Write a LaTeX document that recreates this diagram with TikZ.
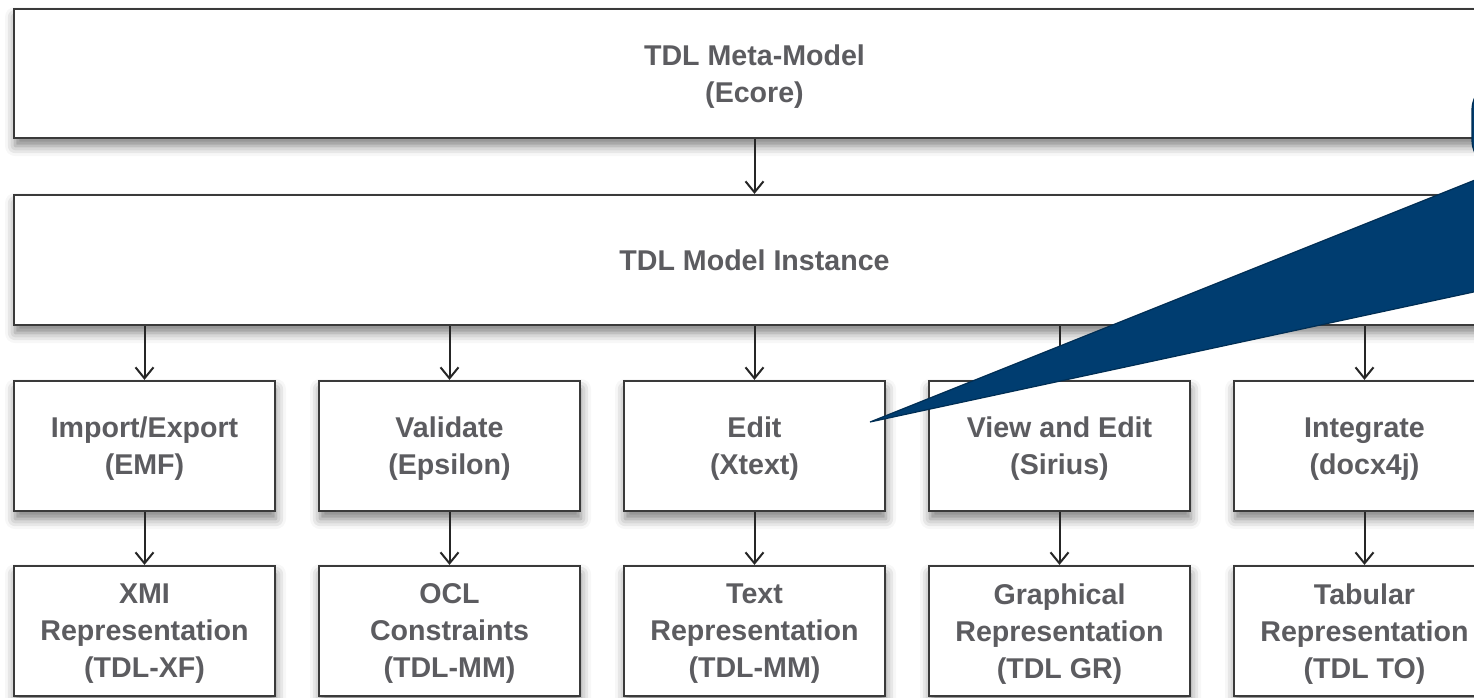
\documentclass[tikz,border=0pt]{standalone}
\usepackage{fontspec}
\setmainfont{Liberation Sans}
\usepackage{xcolor}
\usepackage{tikz}
\usetikzlibrary{arrows.meta, positioning, shadows.blur}

\definecolor{boxtext}{RGB}{92,92,96}
\definecolor{boxline}{RGB}{58,58,58}
\definecolor{calloutblue}{RGB}{0,61,112}

\begin{document}
\begin{tikzpicture}[
    x=0.5pt, y=-0.5pt,
    >={Straight Barb[length=5.5pt, width=9pt]},
    block/.style={rectangle, draw=boxline, line width=1.1pt, fill=white, align=center, inner sep=0pt,
        font=\fontsize{14.3pt}{18.5pt}\selectfont\bfseries, text=boxtext, text depth=-2.2pt,
        blur shadow={shadow xshift=0.5pt, shadow yshift=-4pt, shadow blur radius=5pt, shadow opacity=50}},
    wide/.style={block, minimum width=740.5pt, minimum height=64.5pt},
    tool/.style={block, minimum width=130.5pt, minimum height=65pt},
    repr/.style={tool, text depth=-3.5pt},
    flow/.style={->, draw=black!85, line width=1pt}
]
\useasboundingbox (0,0) rectangle (1474,697);
\clip (0,0) rectangle (1474,697);

% model layers
\node[wide, text depth=-5.5pt] (meta) at (754.5,73.5) {TDL Meta-Model\\(Ecore)};
\node[wide, minimum height=65pt, text depth=-1pt] (inst) at (754.5,260) {TDL Model Instance};

% tools
\node[tool] (io)   at (144.5,446)  {Import/Export\\(EMF)};
\node[tool] (val)  at (449.5,446)  {Validate\\(Epsilon)};
\node[tool] (edit) at (754.5,446)  {Edit\\(Xtext)};
\node[tool] (view) at (1059.5,446) {View and Edit\\(Sirius)};
\node[tool] (intg) at (1364.5,446) {Integrate\\(docx4j)};

% representations
\node[repr] (xmi) at (144.5,631)  {XMI\\Representation\\(TDL-XF)};
\node[repr] (ocl) at (449.5,631)  {OCL\\Constraints\\(TDL-MM)};
\node[repr] (txt) at (754.5,631)  {Text\\Representation\\(TDL-MM)};
\node[repr] (gr)  at (1059.5,631) {Graphical\\Representation\\(TDL GR)};
\node[repr] (tab) at (1364.5,631) {Tabular\\Representation\\(TDL TO)};

\draw[flow] (meta) -- (inst);
\draw[flow] (inst.south -| io) -- (io);
\draw[flow] (inst.south -| val) -- (val);
\draw[flow] (inst.south -| edit) -- (edit);
\draw[flow] (inst.south -| view) -- (view);
\draw[flow] (inst.south -| intg) -- (intg);
\draw[flow] (io) -- (xmi);
\draw[flow] (val) -- (ocl);
\draw[flow] (edit) -- (txt);
\draw[flow] (view) -- (gr);
\draw[flow] (intg) -- (tab);

% callout
\coordinate (tip) at (870,422);
\filldraw[fill=calloutblue, draw=calloutblue!75!black, line width=0.6pt, rounded corners=15pt]
    (1472,80) rectangle (1700,170);
\filldraw[fill=calloutblue, draw=calloutblue!75!black, line width=0.6pt]
    (tip) -- (1520,162) -- (1520,282) -- cycle;
\end{tikzpicture}
\end{document}
